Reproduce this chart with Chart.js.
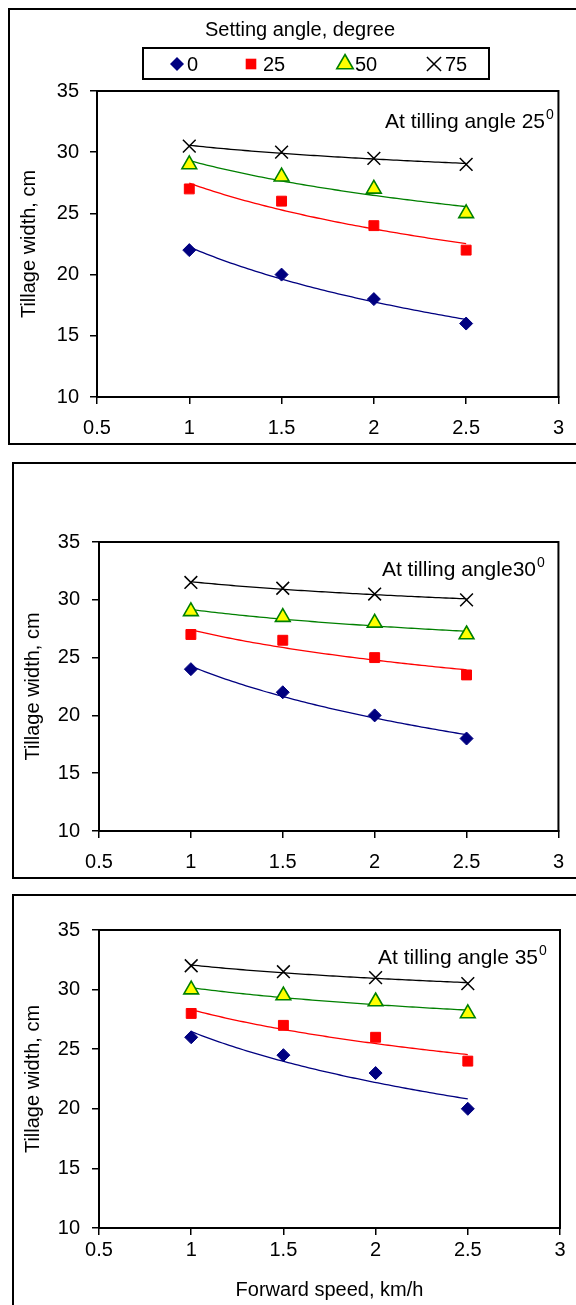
<!DOCTYPE html>
<html><head><meta charset="utf-8">
<script src="https://cdn.jsdelivr.net/npm/chart.js@4.4.1/dist/chart.umd.min.js"></script>
<style>
html,body{margin:0;padding:0;background:#fff;}
body{width:576px;height:1305px;position:relative;overflow:hidden;}
.frame{position:absolute;border:2px solid #000;box-sizing:border-box;}
canvas{position:absolute;left:0;}
</style></head><body>
<div class="frame" style="left:8px;top:8px;width:600px;height:437px"></div>
<div class="frame" style="left:12px;top:462px;width:600px;height:417px"></div>
<div class="frame" style="left:12px;top:894px;width:600px;height:440px"></div>
<canvas id="c1" width="576" height="445" style="top:0px"></canvas>
<canvas id="c2" width="576" height="418" style="top:462px"></canvas>
<canvas id="c3" width="576" height="411" style="top:894px"></canvas>
<script>
// ---- data ----
const speeds = [1, 1.5, 2, 2.5];                 // Forward speed, km/h
const settingAngles = ['0', '25', '50', '75'];   // Setting angle, degree
const xTicks = [0.5, 1, 1.5, 2, 2.5, 3];
const yTicks = [10, 15, 20, 25, 30, 35];
// Tilling angle 25
const t25_s0  = [22, 20, 18, 16];
const t25_s25 = [27, 26, 24, 22];
const t25_s50 = [29, 28, 27, 25];
const t25_s75 = [30.5, 30, 29.5, 29];
// Tilling angle 30
const t30_s0  = [24, 22, 20, 18];
const t30_s25 = [27, 26.5, 25, 23.5];
const t30_s50 = [29, 28.5, 28, 27];
const t30_s75 = [31.5, 31, 30.5, 30];
// Tilling angle 35
const t35_s0  = [26, 24.5, 23, 20];
const t35_s25 = [28, 27, 26, 24];
const t35_s50 = [30, 29.5, 29, 28];
const t35_s75 = [32, 31.5, 31, 30.5];

const FONT = "'Liberation Sans', Arial, sans-serif";
Chart.defaults.font.family = FONT;
Chart.defaults.color = '#000';

const markerStyles = [
  {pointStyle:'rectRot', pointRadius:6.5, backgroundColor:'#000080', borderColor:'#000080', borderWidth:1, trendColor:'#000080'},
  {pointStyle:'rect', pointRadius:7, backgroundColor:'#FF0000', borderColor:'#FF0000', borderWidth:1, trendColor:'#FF0000'},
  {pointStyle:'triangle', pointRadius:8.5, backgroundColor:'#FFFF00', borderColor:'#008000', borderWidth:1.6, trendColor:'#008000'},
  {pointStyle:'crossRot', pointRadius:9, backgroundColor:'#000', borderColor:'#000', borderWidth:1.5, trendColor:'#000000'}
];

// logarithmic trend line (least squares on the plotted data)
const trendPlugin = {
  id: 'trend',
  beforeDatasetsDraw(chart) {
    const {ctx, scales:{x, y}} = chart;
    chart.data.datasets.forEach(ds => {
      const pts = ds.data, n = pts.length;
      let sl=0, sy=0, sll=0, sly=0;
      pts.forEach(p => { const l = Math.log(p.x); sl+=l; sy+=p.y; sll+=l*l; sly+=l*p.y; });
      const b = (n*sly - sl*sy) / (n*sll - sl*sl);
      const a = (sy - b*sl) / n;
      const x0 = Math.min(...pts.map(p=>p.x)), x1 = Math.max(...pts.map(p=>p.x));
      ctx.save();
      ctx.strokeStyle = ds.trendColor; ctx.lineWidth = 1.3;
      ctx.beginPath();
      const steps = 80;
      for (let i=0;i<=steps;i++){
        const xv = x0 + (x1-x0)*i/steps;
        const px = x.getPixelForValue(xv), py = y.getPixelForValue(a + b*Math.log(xv));
        if (i) ctx.lineTo(px,py); else ctx.moveTo(px,py);
      }
      ctx.stroke(); ctx.restore();
    });
  }
};

const framePlugin = {
  id: 'plotFrame',
  afterDraw(chart) {
    const {ctx, chartArea:a} = chart;
    ctx.save(); ctx.strokeStyle = '#000'; ctx.lineWidth = 2;
    ctx.strokeRect(a.left, a.top, a.right-a.left, a.bottom-a.top);
    ctx.restore();
  }
};

const annotPlugin = {
  id: 'annot',
  afterDraw(chart, args, o) {
    if (!o || !o.text) return;
    const ctx = chart.ctx;
    ctx.save(); ctx.fillStyle = '#000';
    ctx.font = o.size + 'px ' + FONT;
    ctx.textBaseline = 'alphabetic'; ctx.textAlign = 'right';
    ctx.fillText(o.text, o.right, o.baseline);
    ctx.textAlign = 'left';
    ctx.font = o.supSize + 'px ' + FONT;
    ctx.fillText(o.sup, o.right + 1, o.baseline - o.supRaise);
    ctx.restore();
  }
};

function drawMarker(ctx, style, cx, cy, r, ds) {
  ctx.save();
  ctx.fillStyle = ds.backgroundColor; ctx.strokeStyle = ds.borderColor; ctx.lineWidth = ds.borderWidth;
  ctx.beginPath();
  if (style === 'rectRot') { ctx.moveTo(cx, cy-r); ctx.lineTo(cx+r, cy); ctx.lineTo(cx, cy+r); ctx.lineTo(cx-r, cy); ctx.closePath(); ctx.fill(); }
  else if (style === 'rect') { const s = r*Math.SQRT1_2; ctx.rect(cx-s, cy-s, 2*s, 2*s); ctx.fill(); }
  else if (style === 'triangle') { const h = r*1.5; ctx.moveTo(cx, cy-h*2/3); ctx.lineTo(cx+r*0.866, cy+h/3); ctx.lineTo(cx-r*0.866, cy+h/3); ctx.closePath(); ctx.fill(); ctx.stroke(); }
  else { const s = r*Math.SQRT1_2; ctx.moveTo(cx-s, cy-s); ctx.lineTo(cx+s, cy+s); ctx.moveTo(cx+s, cy-s); ctx.lineTo(cx-s, cy+s); ctx.stroke(); }
  ctx.restore();
}

const legendPlugin = {
  id: 'boxLegend',
  afterDraw(chart, args, o) {
    if (!o || !o.show) return;
    const ctx = chart.ctx;
    ctx.save();
    ctx.fillStyle = '#000';
    ctx.font = o.titleSize + 'px ' + FONT;
    ctx.textAlign = 'center'; ctx.textBaseline = 'middle';
    ctx.fillText(o.title, o.titleX, o.titleY);
    ctx.strokeStyle = '#000'; ctx.lineWidth = 2;
    ctx.strokeRect(o.box[0], o.box[1], o.box[2]-o.box[0], o.box[3]-o.box[1]);
    ctx.font = o.size + 'px ' + FONT; ctx.textAlign = 'left';
    chart.data.datasets.forEach((ds, i) => {
      const cx = o.markerX[i], cy = o.itemY;
      drawMarker(ctx, ds.pointStyle, cx, cy, o.markerR[i], ds);
      ctx.fillStyle = '#000';
      ctx.fillText(ds.label, cx + o.textGap[i], cy + 1);
    });
    ctx.restore();
  }
};

function makeChart(id, vals, cfg) {
  const datasets = settingAngles.map((lab, i) => Object.assign({
    label: lab,
    data: speeds.map((s, j) => ({x: s, y: vals[i][j]})),
    showLine: false
  }, markerStyles[i]));
  return new Chart(document.getElementById(id), {
    type: 'scatter',
    data: {datasets},
    options: {
      responsive: false, animation: false, devicePixelRatio: 1,
      layout: {padding: cfg.padding},
      plugins: {
        legend: {display: false}, tooltip: {enabled: false},
        annot: cfg.annot,
        boxLegend: cfg.legend || {show:false}
      },
      scales: {
        x: {
          type: 'linear', min: xTicks[0], max: xTicks[xTicks.length-1],
          afterBuildTicks(s){ s.ticks = xTicks.map(v => ({value: v})); },
          ticks: {padding: cfg.xPad, font: {size: 20}, color: '#000', maxRotation: 0, autoSkip: false, callback: v => String(v)},
          grid: {drawOnChartArea: false, drawTicks: true, tickLength: 7, color: '#000', lineWidth: 1.5},
          border: {color: '#000', width: 2},
          title: cfg.xTitle ? {display: true, text: 'Forward speed, km/h', font: {size: 20}, color: '#000', padding: {top: 0, bottom: cfg.xTitlePad}} : {display: false},
          afterFit(s){ s.height = cfg.xH; }
        },
        y: {
          type: 'linear', min: yTicks[0], max: yTicks[yTicks.length-1],
          afterBuildTicks(s){ s.ticks = yTicks.map(v => ({value: v})); },
          ticks: {padding: cfg.yPad, font: {size: 20}, color: '#000', callback: v => String(v)},
          grid: {drawOnChartArea: false, drawTicks: true, tickLength: 7, color: '#000', lineWidth: 1.5},
          border: {color: '#000', width: 2},
          title: {display: true, text: 'Tillage width, cm', font: {size: 20}, color: '#000', padding: {top: cfg.yTitlePad, bottom: 0}},
          afterFit(s){ s.width = cfg.yW; }
        }
      }
    },
    plugins: [trendPlugin, framePlugin, annotPlugin, legendPlugin]
  });
}

makeChart('c1', [t25_s0, t25_s25, t25_s50, t25_s75], {
  padding: {top: 91, right: 11, bottom: 8, left: 0},
  xH: 40, xPad: 12, yPad: 11, yW: 97, yTitlePad: 17,
  annot: {text: 'At tilling angle 25', sup: '0', right: 545, baseline: 128, size: 21, supSize: 14, supRaise: 9},
  legend: {show: true, title: 'Setting angle, degree', titleX: 300, titleY: 30, titleSize: 20,
           box: [143, 48, 489, 79], itemY: 64, size: 20,
           markerX: [177, 251, 345, 434], markerR: [7, 7.5, 9.5, 10], textGap: [10, 12, 10, 11]}
});
makeChart('c2', [t30_s0, t30_s25, t30_s50, t30_s75], {
  padding: {top: 80, right: 14, bottom: 8, left: 0},
  xH: 41, xPad: 12, yPad: 12, yW: 99, yTitlePad: 21,
  annot: {text: 'At tilling angle30', sup: '0', right: 536, baseline: 114, size: 21, supSize: 14, supRaise: 9}
});
makeChart('c3', [t35_s0, t35_s25, t35_s50, t35_s75], {
  padding: {top: 36, right: 16, bottom: 0, left: 0},
  xH: 77, xPad: 3, yPad: 12, yW: 99, yTitlePad: 21, xTitle: true, xTitlePad: 3,
  annot: {text: 'At tilling angle 35', sup: '0', right: 538, baseline: 70, size: 21, supSize: 14, supRaise: 9}
});
</script>
</body></html>
